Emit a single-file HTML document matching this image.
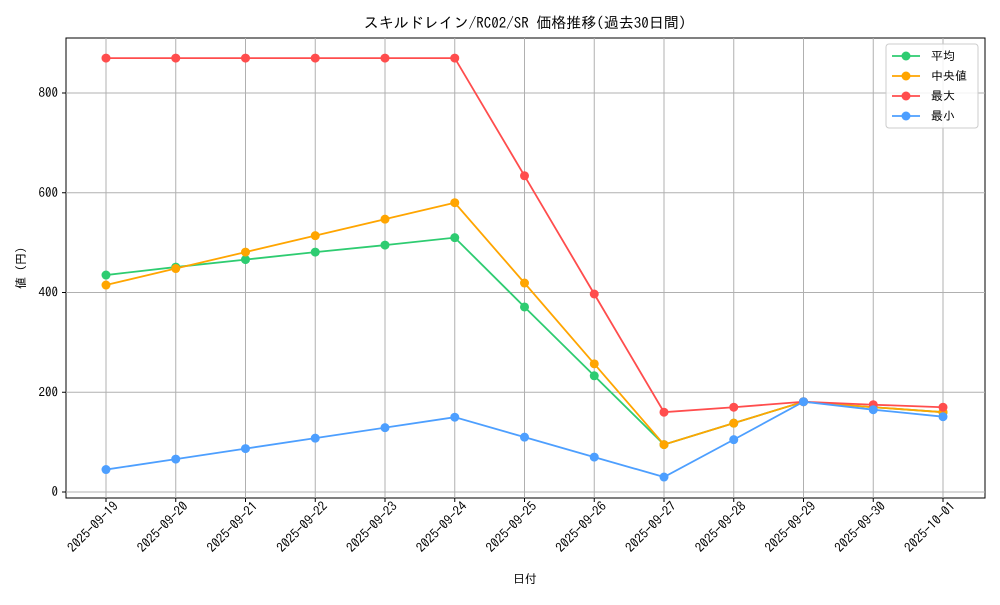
<!DOCTYPE html>
<html><head><meta charset="utf-8"><style>
body{margin:0;background:#fff}
svg text{font-family:"IPAGothic","Noto Sans CJK JP",sans-serif;fill:#000}
</style></head><body>
<svg id="chart" width="1000" height="600" xmlns="http://www.w3.org/2000/svg">
<text x="525" y="28" font-size="15" text-anchor="middle">スキルドレイン/RC02/SR 価格推移(過去30日間)</text>
<rect x="66" y="38" width="919" height="460" fill="none" stroke="#000" stroke-width="1"/>
<g id="grid"></g><g id="series"></g>
<text x="525" y="583" font-size="12" text-anchor="middle">日付</text>
<text transform="translate(25,268) rotate(-90)" font-size="12" text-anchor="middle">値 (円)</text>
<g>
<rect x="886" y="44" width="92" height="84" rx="3" fill="#fff" fill-opacity="0.85" stroke="#ccc"/>
<g id="legend-items"></g>
</g>
</svg>
<script>
const categories=["2025-09-19","2025-09-20","2025-09-21","2025-09-22","2025-09-23","2025-09-24","2025-09-25","2025-09-26","2025-09-27","2025-09-28","2025-09-29","2025-09-30","2025-10-01"];
const meanVals=[435,451,466,481,495,510,371,233,95,138,181,170,160];
const medianVals=[415,448,481,514,547,580,419,257,95,138,181,170,160];
const maxVals=[870,870,870,870,870,870,634,397,160,170,181,175,170];
const minVals=[45,66,87,108,129,150,110,70,30,105,181,165,151];
const yTicks=[0,200,400,600,800];
const seriesNames=["平均","中央値","最大","最小"];
const NS="http://www.w3.org/2000/svg";
const xs=i=>106+i*(943-106)/12;
const ys=v=>492-v*0.49875;
function mk(t,a,p){const e=document.createElementNS(NS,t);for(const k in a)e.setAttribute(k,a[k]);p.appendChild(e);return e;}
const grid=document.getElementById('grid');
yTicks.forEach(v=>{
 const l=mk('line',{x1:66,x2:985,y1:ys(v),y2:ys(v),stroke:'#b0b0b0','stroke-width':1},grid);
 
 
 mk('line',{x1:62,x2:66,y1:ys(v),y2:ys(v),stroke:'#000'},grid);
 const t=mk('text',{x:58,y:ys(v)+4,'font-size':13,'text-anchor':'end'},grid);t.textContent=v;
 
 
});
categories.forEach((c,i)=>{
 const l=mk('line',{x1:xs(i),x2:xs(i),y1:38,y2:498,stroke:'#b0b0b0','stroke-width':1},grid);
 
 
 mk('line',{x1:xs(i),x2:xs(i),y1:498,y2:502,stroke:'#000'},grid);
 const t=mk('text',{transform:`translate(${xs(i)+13},${507}) rotate(-45)`,'font-size':13,'text-anchor':'end'},grid);t.textContent=c;
 
 
});
const sg=document.getElementById('series');
const all=[[meanVals,'#2ecc71'],[medianVals,'#ffa500'],[maxVals,'#ff4d4d'],[minVals,'#4d9fff']];
all.forEach(([vals,col],si)=>{
 const g=mk('g',{},sg);
 
 
 mk('polyline',{points:vals.map((v,i)=>xs(i)+','+ys(v)).join(' '),fill:'none',stroke:col,'stroke-width':1.8},g);
 vals.forEach((v,i)=>{const c=mk('circle',{cx:xs(i),cy:ys(v),r:4.5,fill:col},g);
  
  });
});
const li=document.getElementById('legend-items');
all.forEach(([v,col],i)=>{
 const y=56+i*20;
 mk('line',{x1:892,x2:920,y1:y,y2:y,stroke:col,'stroke-width':1.8},li);
 mk('circle',{cx:906,cy:y,r:4.5,fill:col},li);
 const t=mk('text',{x:931,y:y+4,'font-size':12},li);t.textContent=seriesNames[i];
 
 
});
</script>
</body></html>
